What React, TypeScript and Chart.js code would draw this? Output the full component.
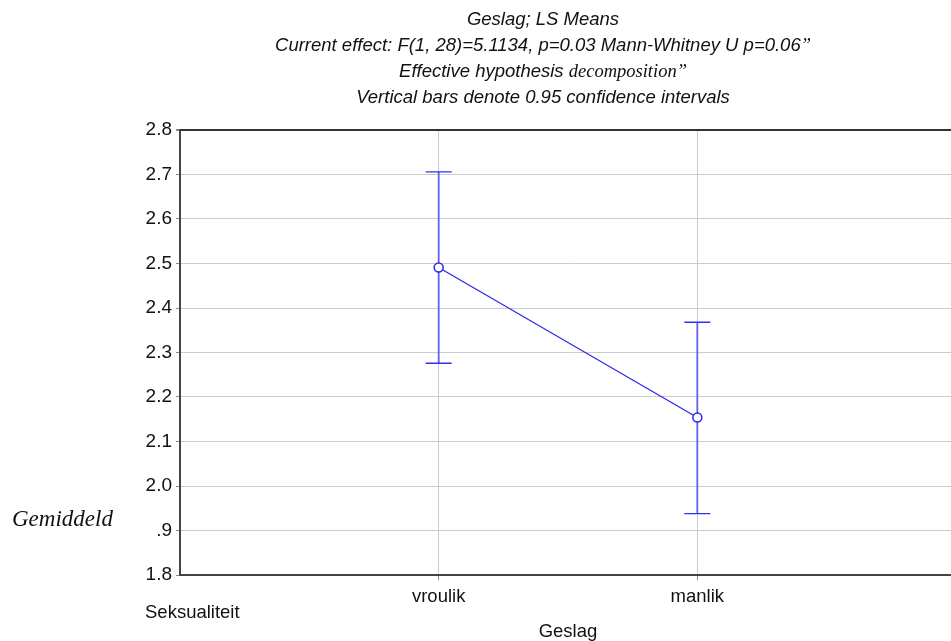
import { useEffect, useRef } from "react";
import { Chart, registerables } from "chart.js";

Chart.register(...registerables);

const CATEGORIES = ["vroulik", "manlik"];
const CATEGORY_POS = [1, 2];
const MEANS = [2.491, 2.154];
const CI_UPPER = [2.706, 2.368];
const CI_LOWER = [2.276, 1.938];
const Y_TICK_VALUES = [1.8, 1.9, 2.0, 2.1, 2.2, 2.3, 2.4, 2.5, 2.6, 2.7, 2.8];
const Y_TICK_LABELS = ["1.8", ".9", "2.0", "2.1", "2.2", "2.3", "2.4", "2.5", "2.6", "2.7", "2.8"];
const X_AXIS_TITLE = "Geslag";
const Y_SIDE_LABEL = "Gemiddeld";
const CORNER_LABEL = "Seksualiteit";
// Title lines: segments of [text, serif?]
const TITLE_LINES: [string, boolean][][] = [
  [["Geslag; LS Means", false]],
  [["Current effect: F(1, 28)=5.1134, p=0.03 Mann-Whitney U p=0.06", false], ["\u201d", true]],
  [["Effective hypothesis ", false], ["decomposition", true], ["\u201d", true]],
  [["Vertical bars denote 0.95 confidence intervals", false]],
];

const SANS = "'Liberation Sans', Arial, sans-serif";
const SERIF = "'Liberation Serif', 'Times New Roman', serif";
const BLUE = "rgb(40,40,230)";

export default function App() {
  const ref = useRef<HTMLCanvasElement | null>(null);

  useEffect(() => {
    const canvas = ref.current;
    if (!canvas) return;

    const errorBars = {
      id: "errorBars",
      beforeDatasetsDraw(chart: any) {
        const { ctx, scales } = chart;
        const xs = scales.x;
        const ys = scales.y;
        ctx.save();
        for (let i = 0; i < CATEGORY_POS.length; i++) {
          const x = xs.getPixelForValue(CATEGORY_POS[i]);
          const yU = ys.getPixelForValue(CI_UPPER[i]);
          const yL = ys.getPixelForValue(CI_LOWER[i]);
          ctx.strokeStyle = "rgb(95,95,240)";
          ctx.lineWidth = 1.8;
          ctx.beginPath();
          ctx.moveTo(x, yU);
          ctx.lineTo(x, yL);
          ctx.stroke();
          ctx.strokeStyle = "rgb(50,50,235)";
          ctx.lineWidth = 1.4;
          ctx.beginPath();
          ctx.moveTo(x - 13, yU);
          ctx.lineTo(x + 13, yU);
          ctx.moveTo(x - 13, yL);
          ctx.lineTo(x + 13, yL);
          ctx.stroke();
        }
        ctx.restore();
      },
    };

    const texts = {
      id: "texts",
      afterDraw(chart: any) {
        const { ctx } = chart;
        ctx.save();
        ctx.fillStyle = "#111";
        ctx.textBaseline = "middle";
        const lineY = [20, 46, 72, 98];
        const cx = 543;
        TITLE_LINES.forEach((segs, li) => {
          const fonts = segs.map(([, serif]) => (serif ? `italic 18.5px ${SERIF}` : `italic 18.5px ${SANS}`));
          let total = 0;
          const widths = segs.map(([t], k) => {
            ctx.font = fonts[k];
            const w = ctx.measureText(t).width;
            total += w;
            return w;
          });
          let x = cx - total / 2;
          ctx.textAlign = "left";
          segs.forEach(([t], k) => {
            ctx.font = fonts[k];
            ctx.fillText(t, x, lineY[li]);
            x += widths[k];
          });
        });
        ctx.textAlign = "left";
        ctx.font = `italic 23px ${SERIF}`;
        ctx.fillText(Y_SIDE_LABEL, 12, 520);
        ctx.font = `18.5px ${SANS}`;
        ctx.fillText(CORNER_LABEL, 145, 613);
        ctx.restore();
      },
    };

    const chart = new Chart(canvas, {
      type: "line",
      data: {
        datasets: [
          {
            data: CATEGORY_POS.map((x, i) => ({ x, y: MEANS[i] })),
            borderColor: BLUE,
            borderWidth: 1.2,
            pointRadius: 4.5,
            pointBackgroundColor: "#ffffff",
            pointBorderColor: BLUE,
            pointBorderWidth: 1.5,
            tension: 0,
          },
        ],
      },
      options: {
        responsive: false,
        maintainAspectRatio: false,
        animation: false,
        layout: { padding: { top: 130, left: 120, right: 1, bottom: 0 } },
        plugins: { legend: { display: false }, tooltip: { enabled: false }, title: { display: false } },
        scales: {
          x: {
            type: "linear",
            min: 0,
            max: 3,
            afterBuildTicks: (s: any) => {
              s.ticks = CATEGORY_POS.map((v) => ({ value: v }));
            },
            afterFit: (s: any) => {
              s.height = 66;
            },
            ticks: {
              callback: (v: any) => CATEGORIES[CATEGORY_POS.indexOf(Number(v))] ?? "",
              font: { family: SANS, size: 18.5 },
              color: "#111",
              padding: 6,
              maxRotation: 0,
              autoSkip: false,
            },
            grid: { color: "#cccccc", lineWidth: 1, tickLength: 5, tickColor: "#888" },
            border: { display: true, color: "#444", width: 2 },
            title: {
              display: true,
              text: X_AXIS_TITLE,
              font: { family: SANS, size: 18.5, lineHeight: 1 },
              color: "#111",
              padding: { top: 0, bottom: 0 },
            },
          },
          y: {
            type: "linear",
            min: 1.8,
            max: 2.8,
            afterBuildTicks: (s: any) => {
              s.ticks = Y_TICK_VALUES.map((v) => ({ value: v }));
            },
            afterFit: (s: any) => {
              s.width = 60;
            },
            ticks: {
              callback: (_v: any, i: number) => Y_TICK_LABELS[i],
              font: { family: SANS, size: 19 },
              color: "#111",
              padding: 4,
              autoSkip: false,
            },
            grid: {
              color: (c: any) => (c.tick && Math.abs(c.tick.value - 2.8) < 1e-6 ? "#333" : "#cccccc"),
              lineWidth: (c: any) => (c.tick && Math.abs(c.tick.value - 2.8) < 1e-6 ? 2 : 1),
              tickLength: 4,
              tickColor: "#888",
            },
            border: { display: true, color: "#444", width: 2 },
          },
        },
      },
      plugins: [errorBars, texts],
    });

    return () => chart.destroy();
  }, []);

  return (
    <div style={{ position: "absolute", left: 0, top: 0, width: 951, height: 641, overflow: "hidden", background: "#fff" }}>
      <canvas ref={ref} width={962} height={641} style={{ display: "block", width: 962, height: 641 }} />
    </div>
  );
}
